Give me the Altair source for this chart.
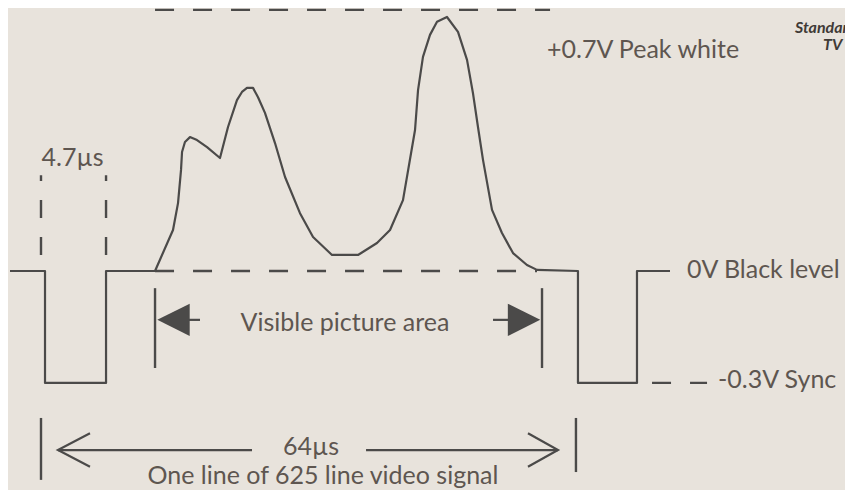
import altair as alt
import pandas as pd

# ---------------- data (time in microseconds, level in volts) ----------------
wave_t = [-3.71, 0.48, 0.48, 7.78, 7.78, 13.64, 15.79, 16.39, 16.75, 16.87, 17.22, 17.82,
          18.66, 19.86, 21.41, 22.37, 23.44, 24.04, 24.64, 25.36, 25.96, 26.79, 27.99,
          29.19, 30.98, 32.54, 34.81, 37.92, 40.19, 41.75, 43.30, 44.74, 45.10, 45.69,
          46.53, 47.37, 48.56, 49.88, 50.96, 51.67, 52.27, 52.87, 53.95, 55.14, 56.46,
          58.13, 59.33, 64.23, 64.23, 71.29, 71.29, 75.24]
wave_v = [0.0, 0.0, -0.30, -0.30, 0.0, 0.0, 0.110, 0.182, 0.271, 0.319, 0.346, 0.359,
          0.351, 0.332, 0.303, 0.386, 0.458, 0.480, 0.491, 0.491, 0.466, 0.424, 0.343,
          0.252, 0.155, 0.091, 0.043, 0.043, 0.075, 0.110, 0.190, 0.378, 0.485, 0.574,
          0.633, 0.668, 0.681, 0.641, 0.566, 0.477, 0.386, 0.298, 0.164, 0.102, 0.048,
          0.016, 0.003, 0.0, -0.30, -0.30, 0.0, 0.0]

# dashed horizontal reference levels
hdash_t1 = [13.64, 13.64, 73.09]
hdash_t2 = [60.89, 59.33, 79.67]
hdash_v = [0.70, 0.0, -0.30]

# dashed 4.7us bracket
vdash_t = [0.0, 7.78]
vdash_v1 = [0.043, 0.043]
vdash_v2 = [0.257, 0.257]

# solid vertical end bars
vbar_t = [13.64, 59.93, 0.0, 63.99]
vbar_v1 = [-0.046, -0.046, -0.394, -0.394]
vbar_v2 = [-0.260, -0.260, -0.560, -0.539]

# solid horizontal arrow shafts
shaft_t1 = [15.85, 54.07, 2.03, 38.88]
shaft_t2 = [19.02, 57.78, 25.24, 61.84]
shaft_v = [-0.131, -0.131, -0.480, -0.480]

# open chevrons of the 64us arrow
chev_id = ["L", "L", "L", "R", "R", "R"]
chev_t = [5.86, 2.03, 5.86, 58.25, 61.84, 58.25]
chev_v = [-0.435, -0.480, -0.525, -0.435, -0.480, -0.525]

# filled arrow heads of the visible-area arrow
head_t = [15.85, 57.78]
head_v = [-0.131, -0.131]
head_dir = ["left", "right"]

# labels
ctext = ["4.7µs", "Visible picture area", "64µs", "One line of 625 line video signal"]
ctext_t = [3.77, 36.36, 32.30, 33.73]
ctext_v = [0.282, -0.161, -0.493, -0.572]

ltext = ["+0.7V Peak white", "0V Black level", "-0.3V Sync"]
ltext_t = [60.53, 77.27, 80.98]
ltext_v = [0.571, -0.019, -0.314]

btext = ["Standard", "TV"]
btext_t = [90.19, 93.54]
btext_v = [0.638, 0.592]

# ---------------- scales ----------------
W, H = 837, 482
PX_US, PX_V = 8.36, 373.0
X0, Y0 = 33.0, 263.0
xs = alt.Scale(domain=[-X0 / PX_US, (W - X0) / PX_US], nice=False, zero=False)
ys = alt.Scale(domain=[(Y0 - H) / PX_V, Y0 / PX_V], nice=False, zero=False)

LINE = "#4b4a49"
TEXT = "#5e5650"
FONT = "Lato"


def X(f):
    return alt.X(f, type="quantitative", scale=xs, axis=None)


def Y(f):
    return alt.Y(f, type="quantitative", scale=ys, axis=None)


wave = pd.DataFrame({"t": wave_t, "v": wave_v, "i": range(len(wave_t))})
wave_layer = alt.Chart(wave).mark_line(color=LINE, strokeWidth=2.2, strokeJoin="round").encode(
    x=X("t"), y=Y("v"), order="i:Q")

hd = pd.DataFrame({"t1": hdash_t1, "t2": hdash_t2, "v": hdash_v})
hd_layer = alt.Chart(hd).mark_rule(color=LINE, strokeWidth=2.4, strokeDash=[19, 19]).encode(
    x=X("t1"), x2="t2", y=Y("v"))

vd = pd.DataFrame({"t": vdash_t, "v1": vdash_v1, "v2": vdash_v2})
vd_layer = alt.Chart(vd).mark_rule(color=LINE, strokeWidth=2.4, strokeDash=[18, 19]).encode(
    x=X("t"), y=Y("v1"), y2="v2")

vb = pd.DataFrame({"t": vbar_t, "v1": vbar_v1, "v2": vbar_v2})
vb_layer = alt.Chart(vb).mark_rule(color=LINE, strokeWidth=2.4).encode(
    x=X("t"), y=Y("v1"), y2="v2")

sh = pd.DataFrame({"t1": shaft_t1, "t2": shaft_t2, "v": shaft_v})
sh_layer = alt.Chart(sh).mark_rule(color=LINE, strokeWidth=2.2).encode(
    x=X("t1"), x2="t2", y=Y("v"))

ch = pd.DataFrame({"id": chev_id, "t": chev_t, "v": chev_v, "i": range(len(chev_t))})
ch_layer = alt.Chart(ch).mark_line(color=LINE, strokeWidth=2.2).encode(
    x=X("t"), y=Y("v"), detail="id:N", order="i:Q")

hl = pd.DataFrame({"t": head_t, "v": head_v, "d": head_dir})
head_layers = []
for d, path in [("left", "M-1,0L1,-1L1,1Z"), ("right", "M1,0L-1,-1L-1,1Z")]:
    head_layers.append(
        alt.Chart(hl[hl.d == d]).mark_point(shape=path, size=1050, filled=True, color=LINE,
                                             opacity=1).encode(x=X("t"), y=Y("v")))

ct = pd.DataFrame({"s": ctext, "t": ctext_t, "v": ctext_v})
ct_layer = alt.Chart(ct).mark_text(font=FONT, fontSize=25, color=TEXT, align="center",
                                   baseline="alphabetic").encode(x=X("t"), y=Y("v"), text="s:N")

lt = pd.DataFrame({"s": ltext, "t": ltext_t, "v": ltext_v})
lt_layer = alt.Chart(lt).mark_text(font=FONT, fontSize=25, color=TEXT, align="left",
                                   baseline="alphabetic").encode(x=X("t"), y=Y("v"), text="s:N")

bt = pd.DataFrame({"s": btext, "t": btext_t, "v": btext_v})
bt_layer = alt.Chart(bt).mark_text(font=FONT, fontSize=16, fontWeight="bold", fontStyle="italic",
                                   color="#3f3a36", align="left",
                                   baseline="alphabetic").encode(x=X("t"), y=Y("v"), text="s:N")

chart = alt.layer(hd_layer, vd_layer, vb_layer, sh_layer, ch_layer, *head_layers, wave_layer,
                  ct_layer, lt_layer, bt_layer).properties(
    width=W, height=H, padding=0, autosize="none", background="#e8e3dc"
).configure_view(stroke=None)

chart.save("out.html", embed_options={"renderer": "svg", "actions": False})
